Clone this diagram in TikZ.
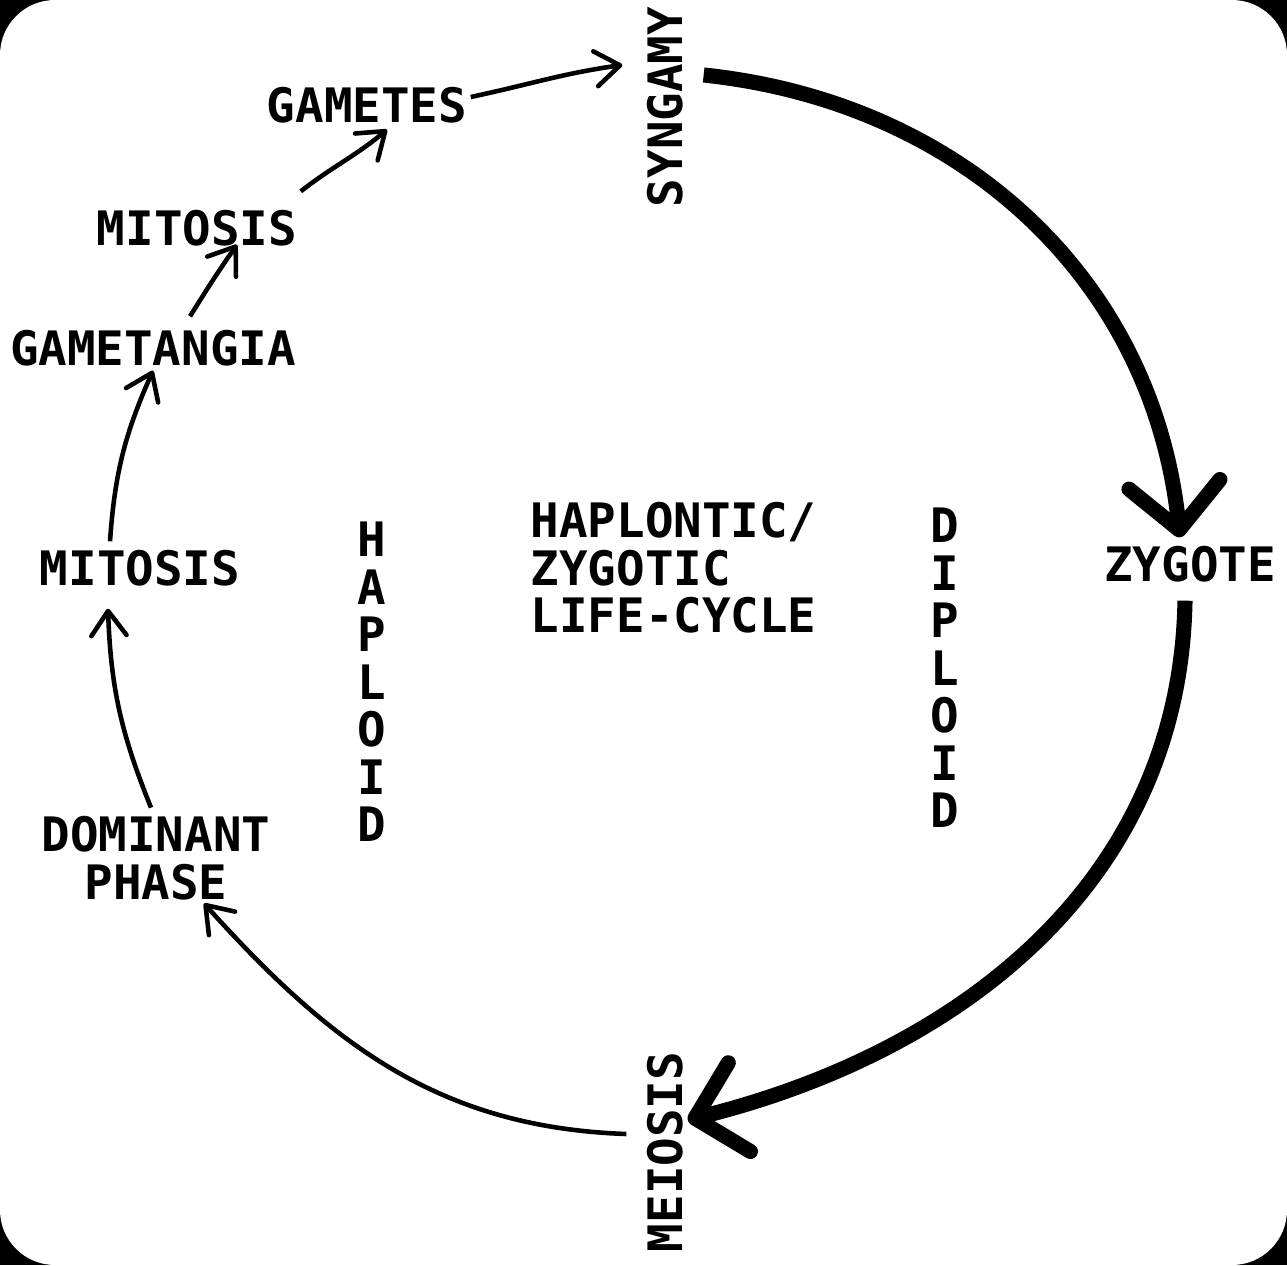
\documentclass[tikz,border=0pt]{standalone}
\usepackage{fontspec}
\newfontfamily\stencil{DejaVu Sans Mono}
\usetikzlibrary{arrows.meta}

\begin{document}
\begin{tikzpicture}[
  x=0.01cm, y=0.01cm,
  every node/.style={font=\stencil\bfseries\fontsize{13.5}{13.5}\selectfont, inner sep=0.08cm},
  thinarrow/.style={-{Straight Barb[length=7pt,width=10pt,round]}, line width=1.3pt},
  thickarrow/.style={-{Straight Barb[length=13pt,width=26pt,round]}, line width=4.3pt}
]
% card with black corners
\fill[black] (0,0) rectangle (1287,1265);
\fill[white, rounded corners=0.55cm] (0,0) rectangle (1287,1265);
\useasboundingbox (0,0) rectangle (1287,1265);

% stages of the cycle
\node[rotate=90] (syn) at (665,1158) {SYNGAMY};
\node (gmt) at (367,1160) {GAMETES};
\node (mit1) at (197,1037) {MITOSIS};
\node (gam) at (153,917) {GAMETANGIA};
\node (mit2) at (140,697) {MITOSIS};
\node[align=center] (dom) at (156,407) {DOMINANT\\PHASE};
\node[rotate=90] (mei) at (665,113) {MEIOSIS};
\node (zyg) at (1190,701) {ZYGOTE};

% phases and title
\node[align=center] (hap) at (372,583) {H\\A\\P\\L\\O\\I\\D};
\node[align=center] (dip) at (945,597) {D\\I\\P\\L\\O\\I\\D};
\node[align=left, anchor=west] (title) at (522,697) {HAPLONTIC/\\ZYGOTIC\\LIFE-CYCLE};

% diploid part
\draw[thickarrow] ([shift={(12,32)}]syn.south) to[out=-6,in=96] ([shift={(-10,0)}]zyg.north);
\draw[thickarrow] ([shift={(-5,-10)}]zyg.south) to[out=-91,in=14] ([shift={(-4,32)}]mei.south);

% haploid part
\draw[thinarrow] ([shift={(-12,18)}]mei.north) to[out=178,in=-48] ([shift={(48,5)}]dom.south);
\draw[thinarrow] ([shift={(-5,0)}]dom.north) to[out=112,in=-88] ([shift={(-32,-14)}]mit2.south);
\draw[thinarrow] ([shift={(-30,0)}]mit2.north) to[out=86,in=-114] ([shift={(0,4)}]gam.south);
\draw[thinarrow] ([shift={(37,5)}]gam.north) to[out=58,in=-125] ([shift={(40,10)}]mit1.south);
\draw[thinarrow] ([shift={(-5,10)}]mit1.north east) to[out=38,in=-140] ([shift={(20,2)}]gmt.south);
\draw[thinarrow] ([shift={(-5,8)}]gmt.east) to[out=12,in=188] ([shift={(-16,42)}]syn.north);
\end{tikzpicture}
\end{document}
